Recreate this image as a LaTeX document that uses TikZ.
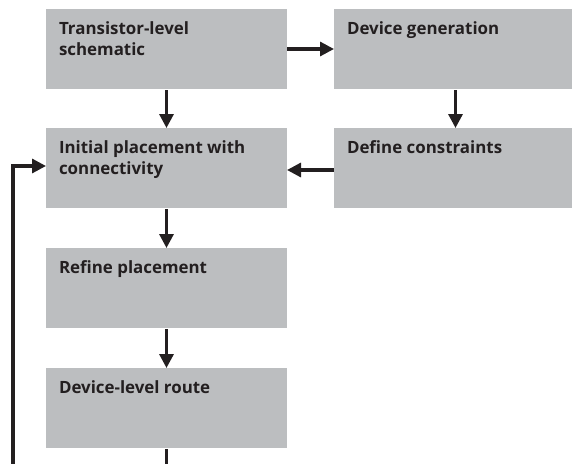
\documentclass[tikz,border=0pt]{standalone}
\usepackage{fontspec}
\setmainfont{Open Sans}
\usetikzlibrary{arrows.meta}
\definecolor{boxgray}{HTML}{BCBEC0}
\definecolor{inkdark}{HTML}{231F20}
\newcommand{\boxtext}[2]{\parbox[c][80pt][t]{#1}{\leftskip=13pt\fontsize{16.9}{20.7}\selectfont\bfseries\color{inkdark}\rule{0pt}{25.3pt}#2\par}}
\tikzset{
  stepbox/.style={fill=boxgray, inner sep=0pt, outer sep=0pt, anchor=north west},
  flowarrow/.style={draw=inkdark, line width=3.2pt, -{Triangle[length=14pt,width=14pt]}},
  flowline/.style={draw=inkdark, line width=3.2pt}
}
\begin{document}
\begin{tikzpicture}[x=1pt,y=-1pt]
\useasboundingbox (0,0) rectangle (572,463);
\clip (0,0) rectangle (572,463);
\node[stepbox] (a) at (46,9) {\boxtext{241pt}{Transistor-level\\schematic}};
\node[stepbox] (b) at (334,9) {\boxtext{243pt}{Device generation}};
\node[stepbox] (c) at (46,128) {\boxtext{241pt}{Initial placement with\\connectivity}};
\node[stepbox] (d) at (334,128) {\boxtext{243pt}{Define constraints}};
\node[stepbox] (e) at (46,248) {\boxtext{241pt}{Refine placement}};
\node[stepbox] (f) at (46,368) {\boxtext{241pt}{Device-level route}};
\coordinate (fb) at (13,470);
\coordinate (fout) at (166.5,470);
\draw[flowarrow, shorten <=1pt] (a.south) -- (c.north);
\draw[flowarrow] (a.east) -- (b.west);
\draw[flowarrow, shorten <=1pt] (b.south) -- (d.north);
\draw[flowarrow] ([yshift=-2pt]d.west) -- ([yshift=-2pt]c.east);
\draw[flowarrow, shorten <=1pt] (c.south) -- (e.north);
\draw[flowarrow, shorten <=1pt] (e.south) -- (f.north);
\draw[flowline, shorten <=1pt] (f.south) -- (fout);
\draw[flowarrow] (fb) |- ([yshift=2pt]c.west);
\end{tikzpicture}
\end{document}
